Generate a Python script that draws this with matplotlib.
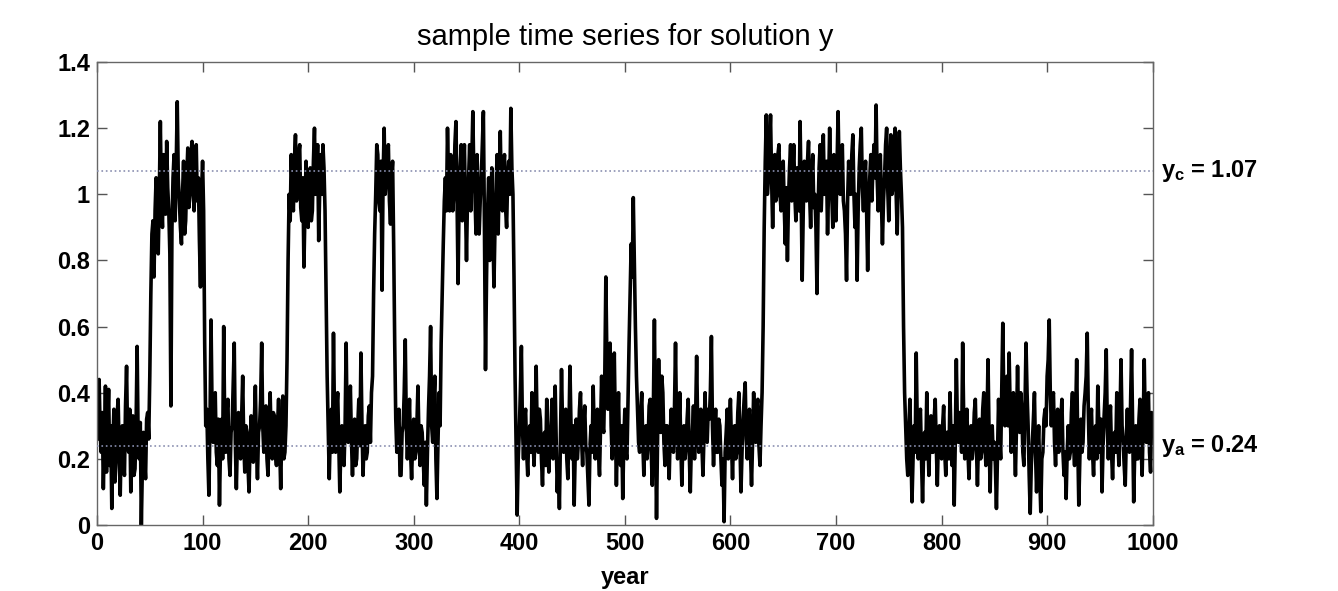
import numpy as np
import matplotlib
matplotlib.use("Agg")
import matplotlib.pyplot as plt

plt.rcParams['font.family'] = ['Liberation Sans', 'DejaVu Sans']
plt.rcParams['mathtext.fontset'] = 'custom'
plt.rcParams['mathtext.rm'] = 'Liberation Sans:bold'
plt.rcParams['mathtext.it'] = 'Liberation Sans:bold'
plt.rcParams['mathtext.bf'] = 'Liberation Sans:bold'

# values, one per year, one list per century
y_000 = [0.26, 0.38, 0.44, 0.28, 0.22, 0.34, 0.11, 0.25, 0.42, 0.16,
         0.30, 0.41, 0.18, 0.30, 0.05, 0.24, 0.35, 0.13, 0.20, 0.33,
         0.38, 0.22, 0.09, 0.27, 0.30, 0.19, 0.15, 0.36, 0.48, 0.26,
         0.22, 0.35, 0.10, 0.20, 0.33, 0.15, 0.17, 0.30, 0.54, 0.25,
         0.20, 0.31, 0.00, 0.18, 0.28, 0.20, 0.14, 0.32, 0.34, 0.26,
         0.45, 0.70, 0.88, 0.92, 0.75, 0.95, 1.05, 0.88, 0.82, 1.00,
         1.22, 0.98, 0.90, 1.12, 1.10, 0.94, 1.16, 1.02, 0.95, 0.82,
         0.36, 0.90, 1.05, 1.12, 0.92, 1.08, 1.28, 1.05, 0.98, 0.90,
         0.85, 1.00, 1.10, 0.88, 0.92, 1.05, 1.14, 0.96, 1.00, 1.12,
         1.16, 1.02, 0.95, 1.08, 1.15, 0.98, 1.05, 0.86, 0.72, 1.00]
y_100 = [1.10, 0.95, 0.55, 0.30, 0.35, 0.20, 0.09, 0.30, 0.62, 0.35,
         0.25, 0.36, 0.40, 0.22, 0.18, 0.32, 0.06, 0.24, 0.32, 0.20,
         0.60, 0.30, 0.22, 0.34, 0.38, 0.20, 0.15, 0.28, 0.30, 0.42,
         0.55, 0.25, 0.11, 0.26, 0.34, 0.22, 0.20, 0.33, 0.45, 0.25,
         0.16, 0.30, 0.28, 0.18, 0.10, 0.25, 0.33, 0.22, 0.19, 0.30,
         0.42, 0.24, 0.14, 0.28, 0.30, 0.38, 0.55, 0.30, 0.22, 0.32,
         0.36, 0.20, 0.15, 0.30, 0.40, 0.26, 0.20, 0.34, 0.33, 0.22,
         0.18, 0.30, 0.38, 0.24, 0.11, 0.28, 0.39, 0.20, 0.22, 0.30,
         0.50, 0.80, 1.00, 0.92, 1.12, 1.00, 0.95, 1.10, 1.18, 0.98,
         1.02, 1.12, 1.15, 0.96, 0.92, 1.05, 0.78, 0.95, 1.10, 1.00]
y_200 = [0.90, 1.05, 1.08, 0.92, 0.95, 1.10, 1.20, 1.00, 1.05, 1.15,
         0.86, 1.02, 1.12, 1.00, 1.15, 1.08, 0.95, 0.70, 0.45, 0.30,
         0.14, 0.28, 0.35, 0.22, 0.58, 0.32, 0.22, 0.35, 0.40, 0.25,
         0.10, 0.24, 0.30, 0.20, 0.18, 0.30, 0.55, 0.28, 0.25, 0.34,
         0.42, 0.26, 0.15, 0.28, 0.32, 0.18, 0.20, 0.30, 0.38, 0.24,
         0.52, 0.30, 0.15, 0.26, 0.30, 0.20, 0.22, 0.33, 0.36, 0.25,
         0.40, 0.45, 0.70, 0.88, 1.00, 1.15, 1.12, 0.98, 0.95, 1.10,
         0.71, 1.05, 1.20, 1.00, 1.05, 1.12, 1.15, 0.98, 0.91, 1.05,
         1.10, 0.85, 0.55, 0.32, 0.22, 0.30, 0.35, 0.15, 0.15, 0.28,
         0.30, 0.40, 0.56, 0.30, 0.20, 0.28, 0.38, 0.22, 0.14, 0.26]
y_300 = [0.32, 0.20, 0.22, 0.30, 0.42, 0.26, 0.18, 0.30, 0.28, 0.20,
         0.12, 0.25, 0.06, 0.22, 0.35, 0.45, 0.60, 0.30, 0.25, 0.38,
         0.45, 0.20, 0.08, 0.25, 0.40, 0.30, 0.55, 0.70, 0.85, 0.98,
         1.05, 0.95, 1.20, 1.05, 0.95, 1.12, 1.10, 0.95, 1.00, 1.15,
         1.22, 1.00, 0.73, 0.98, 1.08, 1.15, 0.92, 1.05, 1.15, 0.98,
         0.80, 1.00, 1.05, 1.15, 0.95, 1.10, 1.25, 1.05, 1.00, 0.88,
         1.12, 1.00, 0.88, 0.98, 1.05, 1.15, 1.25, 0.90, 0.47, 0.75,
         0.95, 1.05, 0.80, 0.95, 1.08, 0.90, 0.72, 0.90, 1.02, 1.12,
         0.88, 1.05, 1.19, 1.00, 0.95, 1.08, 1.12, 0.96, 0.90, 1.05,
         1.10, 1.00, 1.26, 1.08, 1.00, 0.75, 0.45, 0.25, 0.03, 0.20]
y_400 = [0.28, 0.40, 0.54, 0.30, 0.20, 0.32, 0.35, 0.22, 0.15, 0.28,
         0.30, 0.22, 0.40, 0.26, 0.18, 0.30, 0.48, 0.28, 0.22, 0.35,
         0.32, 0.20, 0.12, 0.26, 0.28, 0.18, 0.38, 0.24, 0.16, 0.28,
         0.30, 0.38, 0.20, 0.30, 0.42, 0.25, 0.10, 0.20, 0.05, 0.25,
         0.47, 0.30, 0.22, 0.33, 0.35, 0.20, 0.14, 0.28, 0.48, 0.30,
         0.20, 0.30, 0.06, 0.22, 0.32, 0.20, 0.25, 0.35, 0.40, 0.26,
         0.18, 0.30, 0.36, 0.24, 0.22, 0.14, 0.06, 0.24, 0.30, 0.22,
         0.42, 0.28, 0.20, 0.32, 0.35, 0.22, 0.15, 0.30, 0.45, 0.30,
         0.28, 0.45, 0.75, 0.50, 0.35, 0.45, 0.55, 0.30, 0.20, 0.35,
         0.52, 0.30, 0.12, 0.28, 0.40, 0.22, 0.18, 0.30, 0.08, 0.25]
y_500 = [0.35, 0.22, 0.20, 0.38, 0.55, 0.70, 0.85, 0.75, 0.99, 0.80,
         0.60, 0.45, 0.35, 0.25, 0.22, 0.34, 0.40, 0.25, 0.15, 0.28,
         0.30, 0.20, 0.25, 0.36, 0.38, 0.22, 0.12, 0.35, 0.62, 0.30,
         0.02, 0.25, 0.50, 0.32, 0.28, 0.45, 0.40, 0.25, 0.18, 0.30,
         0.30, 0.22, 0.14, 0.28, 0.35, 0.24, 0.22, 0.35, 0.55, 0.30,
         0.20, 0.28, 0.40, 0.24, 0.12, 0.26, 0.30, 0.20, 0.24, 0.32,
         0.38, 0.22, 0.10, 0.24, 0.28, 0.36, 0.20, 0.32, 0.51, 0.30,
         0.22, 0.30, 0.35, 0.24, 0.15, 0.28, 0.40, 0.26, 0.25, 0.35,
         0.32, 0.40, 0.57, 0.30, 0.18, 0.28, 0.35, 0.22, 0.22, 0.32,
         0.30, 0.20, 0.12, 0.20, 0.01, 0.22, 0.28, 0.35, 0.20, 0.30]
y_600 = [0.38, 0.25, 0.14, 0.28, 0.30, 0.20, 0.22, 0.34, 0.40, 0.25,
         0.10, 0.22, 0.32, 0.38, 0.43, 0.26, 0.20, 0.30, 0.35, 0.22,
         0.12, 0.25, 0.40, 0.30, 0.25, 0.36, 0.38, 0.24, 0.18, 0.30,
         0.40, 0.60, 0.90, 1.10, 1.24, 1.00, 1.05, 1.15, 1.24, 1.05,
         0.90, 1.05, 1.12, 0.98, 1.00, 1.12, 1.15, 1.00, 0.95, 1.08,
         1.10, 0.96, 0.85, 1.02, 0.80, 0.98, 1.08, 1.15, 0.98, 1.06,
         1.15, 1.00, 0.92, 1.08, 1.05, 0.95, 1.22, 1.00, 0.74, 0.95,
         1.10, 1.02, 0.98, 1.10, 1.16, 1.00, 0.90, 1.05, 1.12, 0.96,
         1.00, 0.90, 0.70, 0.95, 1.08, 1.15, 0.95, 1.05, 1.18, 1.00,
         1.02, 1.10, 0.88, 1.02, 1.20, 1.05, 1.00, 0.90, 1.12, 1.02]
y_700 = [0.92, 1.08, 1.25, 1.05, 1.00, 1.10, 1.15, 0.98, 0.95, 0.88,
         0.74, 0.98, 1.10, 1.02, 1.00, 1.12, 1.18, 1.00, 0.90, 1.00,
         0.74, 0.95, 1.08, 1.15, 1.20, 1.02, 0.95, 1.05, 1.10, 0.95,
         0.77, 0.96, 1.05, 1.12, 0.98, 1.08, 1.15, 1.05, 1.27, 1.05,
         0.95, 1.05, 1.12, 0.98, 0.85, 0.98, 1.05, 1.15, 1.20, 1.02,
         0.92, 1.05, 1.18, 1.00, 1.02, 1.12, 1.20, 1.00, 0.88, 1.05,
         1.19, 1.08, 1.00, 0.90, 0.60, 0.40, 0.30, 0.20, 0.15, 0.28,
         0.38, 0.22, 0.07, 0.20, 0.30, 0.22, 0.52, 0.30, 0.20, 0.32,
         0.35, 0.20, 0.07, 0.22, 0.28, 0.20, 0.40, 0.26, 0.15, 0.28,
         0.33, 0.22, 0.22, 0.32, 0.38, 0.24, 0.12, 0.26, 0.30, 0.22]
y_800 = [0.20, 0.30, 0.36, 0.22, 0.15, 0.28, 0.28, 0.20, 0.40, 0.26,
         0.18, 0.30, 0.06, 0.25, 0.50, 0.30, 0.25, 0.34, 0.32, 0.22,
         0.55, 0.32, 0.20, 0.30, 0.35, 0.22, 0.14, 0.28, 0.30, 0.20,
         0.24, 0.34, 0.38, 0.24, 0.12, 0.26, 0.32, 0.20, 0.22, 0.35,
         0.40, 0.25, 0.18, 0.30, 0.50, 0.28, 0.10, 0.25, 0.30, 0.20,
         0.25, 0.18, 0.05, 0.22, 0.38, 0.26, 0.20, 0.40, 0.61, 0.38,
         0.30, 0.42, 0.45, 0.30, 0.52, 0.35, 0.22, 0.34, 0.40, 0.26,
         0.15, 0.30, 0.48, 0.30, 0.28, 0.40, 0.35, 0.22, 0.18, 0.35,
         0.55, 0.40, 0.30, 0.15, 0.035, 0.18, 0.25, 0.32, 0.40, 0.22,
         0.10, 0.22, 0.30, 0.15, 0.04, 0.20, 0.22, 0.32, 0.35, 0.30]
y_900 = [0.45, 0.50, 0.62, 0.40, 0.30, 0.38, 0.40, 0.25, 0.18, 0.30,
         0.35, 0.22, 0.25, 0.32, 0.38, 0.22, 0.15, 0.22, 0.08, 0.22,
         0.30, 0.20, 0.22, 0.34, 0.40, 0.25, 0.18, 0.32, 0.50, 0.25,
         0.06, 0.20, 0.32, 0.22, 0.25, 0.36, 0.40, 0.45, 0.58, 0.35,
         0.20, 0.30, 0.35, 0.22, 0.15, 0.28, 0.30, 0.20, 0.42, 0.30,
         0.22, 0.32, 0.10, 0.24, 0.33, 0.40, 0.53, 0.30, 0.20, 0.30,
         0.36, 0.22, 0.14, 0.26, 0.28, 0.22, 0.40, 0.26, 0.18, 0.32,
         0.50, 0.30, 0.25, 0.18, 0.12, 0.26, 0.35, 0.24, 0.22, 0.36,
         0.53, 0.30, 0.07, 0.22, 0.30, 0.20, 0.20, 0.32, 0.38, 0.24,
         0.15, 0.30, 0.50, 0.30, 0.25, 0.36, 0.40, 0.22, 0.16, 0.34]
y_end = [0.30]

y_a = 0.24
y_c = 1.07

chunks = [y_000, y_100, y_200, y_300, y_400, y_500, y_600, y_700, y_800, y_900]
years = []
values = []
for k, chunk in enumerate(chunks):
    years.extend(100 * k + np.arange(len(chunk)))
    values.extend(chunk)
years.append(1000)
values.extend(y_end)

fig = plt.figure(figsize=(13.38, 5.91), dpi=100)
ax = fig.add_axes([0.0725, 0.1117, 0.789, 0.7833])

ax.plot(years, values, color='black', lw=2.6, zorder=2)
ax.axhline(y_c, color='#8a8fb0', lw=1.2, ls=':', zorder=3)
ax.axhline(y_a, color='#8a8fb0', lw=1.2, ls=':', zorder=3)

ax.set_xlim(0, 1000)
ax.set_ylim(0, 1.4)
ax.set_xticks(np.arange(0, 1001, 100))
ax.set_yticks(np.arange(0, 1.41, 0.2))
ax.set_yticklabels(['0', '0.2', '0.4', '0.6', '0.8', '1', '1.2', '1.4'])

ax.tick_params(direction='in', length=7, width=1, color='#555555',
               top=True, right=True, labelsize=17, pad=5)
for lab in ax.get_xticklabels() + ax.get_yticklabels():
    lab.set_fontweight('bold')
for s in ax.spines.values():
    s.set_color('#666666')
    s.set_linewidth(1)

ax.set_title('sample time series for solution y', fontsize=21, pad=12)
ax.set_xlabel('year', fontsize=17, fontweight='bold', labelpad=8)

ax.text(1008, y_c, r'$y_c$ = 1.07', fontsize=17, fontweight='bold',
        va='center', ha='left')
ax.text(1008, y_a, r'$y_a$ = 0.24', fontsize=17, fontweight='bold',
        va='center', ha='left')

fig.savefig('out.png', dpi=100)
